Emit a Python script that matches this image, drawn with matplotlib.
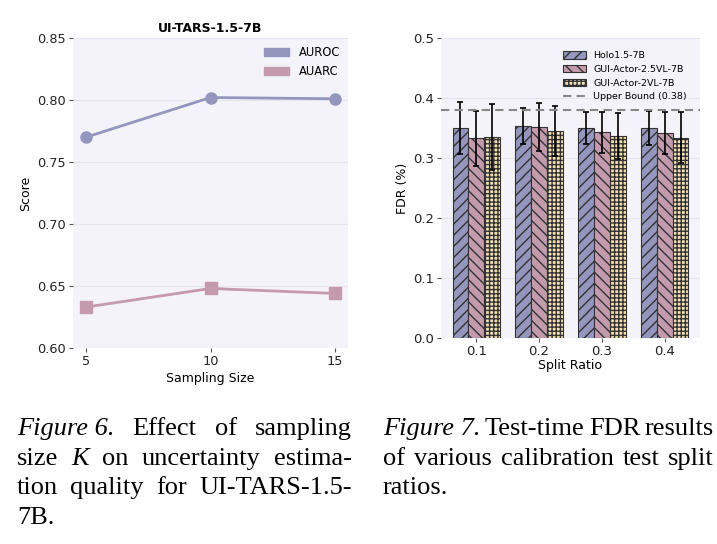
import numpy as np
import matplotlib
matplotlib.use('Agg')
import matplotlib.pyplot as plt
from matplotlib.patches import Patch

# left chart data
sampling_size = [5, 10, 15]
auroc = [0.770, 0.802, 0.801]
auarc = [0.633, 0.648, 0.644]

# right chart data
split_ratio = ['0.1', '0.2', '0.3', '0.4']
holo_fdr = [0.350, 0.353, 0.350, 0.350]
holo_err = [0.043, 0.030, 0.027, 0.028]
gui25_fdr = [0.333, 0.351, 0.343, 0.341]
gui25_err = [0.046, 0.040, 0.034, 0.035]
gui2_fdr = [0.335, 0.345, 0.337, 0.334]
gui2_err = [0.055, 0.042, 0.038, 0.043]
upper_bound = 0.38

purple = '#9496be'
pink = '#c49aad'
cream = '#f5e2b4'
bg = '#f4f3f9'

W, H = 717, 544
fig = plt.figure(figsize=(W / 100, H / 100), dpi=100)


def box(l, t, r, b):
    return [l / W, 1 - b / H, (r - l) / W, (b - t) / H]


def style(ax, fs):
    ax.set_facecolor(bg)
    for s in ax.spines.values():
        s.set_visible(False)
    ax.grid(axis='y', color='#e6e5ee', lw=0.8)
    ax.set_axisbelow(True)
    ax.tick_params(length=3, color='#555555', labelsize=fs, labelcolor='#222222', pad=2)


# ---- Figure 6 ----
ax1 = fig.add_axes(box(73, 38, 348, 348))
style(ax1, 9.3)
ax1.plot(sampling_size, auroc, color=purple, lw=2, marker='o', ms=8)
ax1.plot(sampling_size, auarc, color=pink, lw=2, marker='s', ms=8)
ax1.set_xlim(4.48, 15.52)
ax1.set_ylim(0.60, 0.85)
ax1.set_xticks(sampling_size)
yt = [0.60, 0.65, 0.70, 0.75, 0.80, 0.85]
ax1.set_yticks(yt)
ax1.set_yticklabels(['%.2f' % v for v in yt])
ax1.set_xlabel('Sampling Size', fontsize=9, labelpad=3)
ax1.set_ylabel('Score', fontsize=9, labelpad=4)
ax1.set_title('UI-TARS-1.5-7B', fontsize=9, fontweight='bold', pad=4)
ax1.legend(handles=[Patch(color=purple, label='AUROC'), Patch(color=pink, label='AUARC')],
           loc='upper right', frameon=False, fontsize=8.3, handlelength=2.2,
           handleheight=0.7, borderaxespad=0.3, labelspacing=0.55)

# ---- Figure 7 ----
ax2 = fig.add_axes(box(441, 38, 700, 338))
style(ax2, 9.5)
x = np.arange(len(split_ratio))
bw = 0.25
ekw = dict(elinewidth=1.2, capthick=1.2, ecolor='black')
b1 = ax2.bar(x - bw, holo_fdr, bw, yerr=holo_err, capsize=2.5, color=purple,
             edgecolor='#333333', lw=0.8, hatch='///', error_kw=ekw, label='Holo1.5-7B')
b2 = ax2.bar(x, gui25_fdr, bw, yerr=gui25_err, capsize=2.5, color=pink,
             edgecolor='#333333', lw=0.8, hatch='\\\\\\', error_kw=ekw, label='GUI-Actor-2.5VL-7B')
b3 = ax2.bar(x + bw, gui2_fdr, bw, yerr=gui2_err, capsize=2.5, color=cream,
             edgecolor='#333333', lw=0.8, hatch='++++', error_kw=ekw, label='GUI-Actor-2VL-7B')
ub = ax2.axhline(upper_bound, color='#888888', lw=1.5, ls=(0, (4, 2.5)),
                 label='Upper Bound (%.2f)' % upper_bound)
ax2.set_xlim(-0.56, 3.56)
ax2.set_ylim(0, 0.5)
ax2.set_xticks(x)
ax2.set_xticklabels(split_ratio)
ax2.set_yticks([0, 0.1, 0.2, 0.3, 0.4, 0.5])
ax2.set_yticklabels(['0.0', '0.1', '0.2', '0.3', '0.4', '0.5'])
ax2.set_xlabel('Split Ratio', fontsize=9, labelpad=1)
ax2.set_ylabel('FDR (%)', fontsize=9, labelpad=3)
ax2.legend(handles=[b1, b2, b3, ub], loc='upper right', frameon=False, fontsize=6.8,
           handlelength=2.4, handleheight=0.8, borderaxespad=1.0, labelspacing=0.5)

# ---- captions ----
serif = 'Liberation Serif'
cfs = 19
renderer = fig.canvas.get_renderer()


def caption_line(words, left, right, base, justify=True):
    texts = []
    for w, it in words:
        t = fig.text(0, 1 - base / H, w, fontsize=cfs, family=serif,
                     style='italic' if it else 'normal', va='baseline')
        texts.append(t)
    widths = [t.get_window_extent(renderer).width for t in texts]
    if justify and len(texts) > 1:
        gap = (right - left - sum(widths)) / (len(texts) - 1)
    else:
        sp = fig.text(0, 0, 'a a', fontsize=cfs, family=serif)
        sp2 = fig.text(0, 0, 'aa', fontsize=cfs, family=serif)
        gap = sp.get_window_extent(renderer).width - sp2.get_window_extent(renderer).width
        sp.remove()
        sp2.remove()
    pos = left
    for t, wd in zip(texts, widths):
        t.set_x(pos / W)
        pos += wd + gap


cap6 = [
    [('Figure 6.', True), ('Effect', False), ('of', False), ('sampling', False)],
    [('size', False), ('K', True), ('on', False), ('uncertainty', False), ('estima-', False)],
    [('tion', False), ('quality', False), ('for', False), ('UI-TARS-1.5-', False)],
    [('7B.', False)],
]
for i, line in enumerate(cap6):
    caption_line(line, 17, 352, 435 + i * 29.7, justify=(i < 3))

cap7 = [
    [('Figure 7.', True), ('Test-time', False), ('FDR', False), ('results', False)],
    [('of', False), ('various', False), ('calibration', False), ('test', False), ('split', False)],
    [('ratios.', False)],
]
for i, line in enumerate(cap7):
    caption_line(line, 383, 714, 435 + i * 29.7, justify=(i < 2))

fig.savefig('out.png', dpi=100)
